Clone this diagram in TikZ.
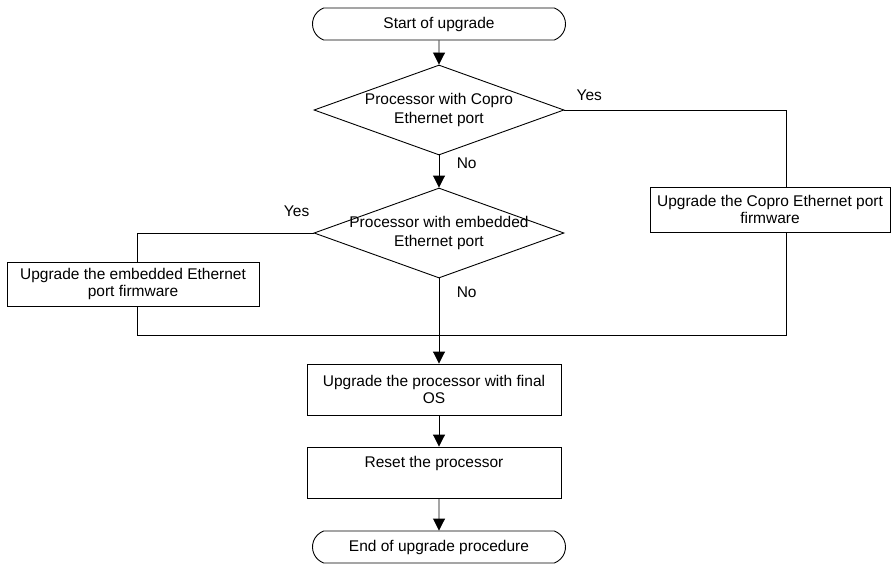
\documentclass[tikz,border=0pt]{standalone}
\usepackage{fontspec}
\setmainfont{Liberation Sans}
\usetikzlibrary{shapes.geometric, shapes.misc, arrows.meta}

\begin{document}
\begin{tikzpicture}[x=1pt, y=-1pt, line width=0.9pt, font=\fontsize{15.5}{17}\selectfont]

\tikzset{terminal/.style = {rounded rectangle, rounded rectangle arc length=140, draw, minimum width=253pt, minimum height=32pt, inner sep=0pt}}
\tikzset{decision/.style = {diamond, draw, aspect=2.78, minimum width=250pt, minimum height=90pt, inner sep=-12pt, align=center, font=\fontsize{15.5}{19}\selectfont}}
\tikzset{process/.style = {rectangle, draw, minimum width=254pt, minimum height=51pt, inner sep=0pt, align=center}}
\tikzset{edge/.style = {-{Triangle[length=12pt,width=12pt]}}}
\useasboundingbox (0,0) rectangle (892,565);
%nodes
\node[terminal] (start) at (439,24) {Start of upgrade};
\node[decision] (d1) at (439,110) {Processor with Copro\\Ethernet port};
\node[decision] (d2) at (439,233) {Processor with embedded\\Ethernet port};
\node[process, minimum width=252pt, minimum height=44pt] (emb) at (133,284) {Upgrade the embedded Ethernet\\port firmware};
\node[process, minimum width=240pt, minimum height=45pt] (copro) at (770,209.5) {Upgrade the Copro Ethernet port\\firmware};
\coordinate (join) at (439,335);
\node[process] (os) at (434,389.5) {Upgrade the processor with final\\OS};
\node[process] (reset) at (434,472.5) {Reset the processor\\[4pt]~};
\node[terminal] (end) at (439,547) {End of upgrade procedure};
%edges
\draw[edge] (start) -- (d1);
\draw[edge] (d1) -- node[pos=0.25, anchor=west, xshift=14pt] {No} (d2);
\draw (d1.east) -| node[pos=0.056, above=6pt] {Yes} ([xshift=16pt]copro.north);
\draw (d2.west) -| node[pos=0.048, above=13pt] {Yes} ([xshift=4pt]emb.north);
\draw ([xshift=16pt]copro.south) |- (join);
\draw ([xshift=4pt]emb.south) |- (join);
\draw[edge] (d2) -- node[pos=0.16, anchor=west, xshift=14pt] {No} (os.north -| d2);
\draw[edge] (os.south -| start) -- (reset.north -| start);
\draw[edge] (reset.south -| end) -- (end);
\end{tikzpicture}
\end{document}
